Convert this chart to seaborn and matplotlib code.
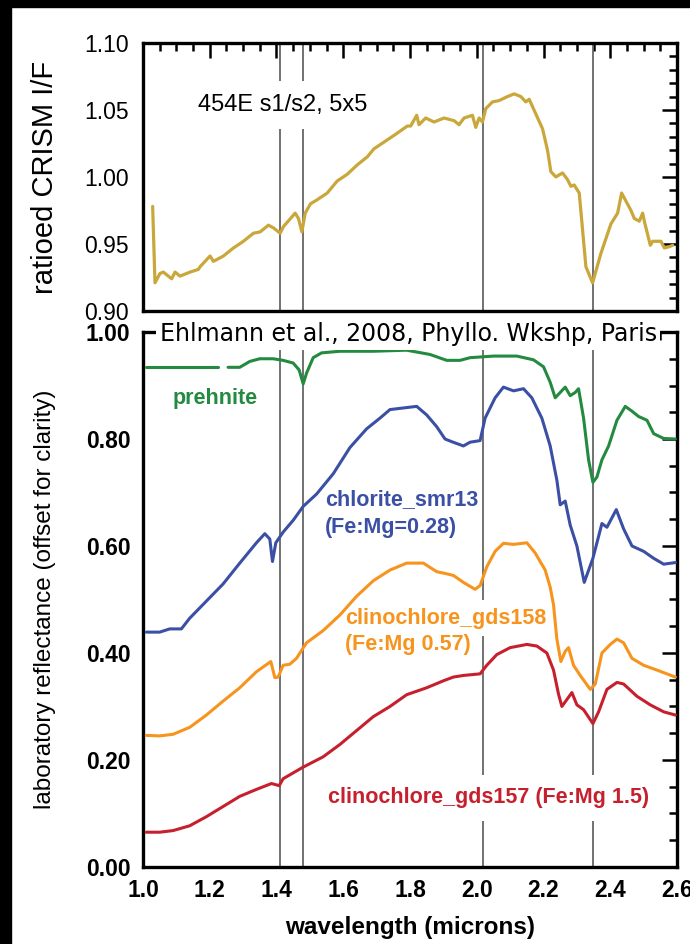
import numpy as np
import pandas as pd
import matplotlib
matplotlib.use('Agg')
import matplotlib.pyplot as plt
from matplotlib.patches import Rectangle
from matplotlib.ticker import MultipleLocator, FormatStrFormatter
import seaborn as sns

# CRISM ratioed spectrum (top panel)
crism_w = [1.029, 1.036, 1.051, 1.061, 1.086, 1.096, 1.111, 1.141, 1.166, 1.171,
           1.201, 1.211, 1.241, 1.271, 1.301, 1.331, 1.351, 1.376, 1.391, 1.411,
           1.421, 1.456, 1.466, 1.476, 1.486, 1.502, 1.522, 1.552, 1.582, 1.612,
           1.642, 1.672, 1.692, 1.722, 1.752, 1.792, 1.802, 1.82, 1.827, 1.847,
           1.872, 1.902, 1.932, 1.947, 1.962, 1.987, 1.997, 2.007, 2.017, 2.027,
           2.047, 2.067, 2.092, 2.112, 2.132, 2.147, 2.157, 2.177, 2.197, 2.212,
           2.222, 2.237, 2.257, 2.272, 2.282, 2.292, 2.302, 2.307, 2.327, 2.347,
           2.372, 2.402, 2.422, 2.434, 2.462, 2.472, 2.487, 2.497, 2.502, 2.52,
           2.527, 2.552, 2.562, 2.577, 2.587]
crism_v = [0.978, 0.921, 0.928, 0.929, 0.924, 0.929, 0.926, 0.929, 0.931, 0.933,
           0.941, 0.937, 0.941, 0.947, 0.952, 0.958, 0.959, 0.964, 0.962, 0.958,
           0.963, 0.973, 0.969, 0.959, 0.973, 0.980, 0.983, 0.988, 0.997, 1.002,
           1.009, 1.015, 1.021, 1.026, 1.031, 1.038, 1.038, 1.046, 1.039, 1.044,
           1.041, 1.044, 1.042, 1.039, 1.044, 1.046, 1.037, 1.044, 1.041, 1.051,
           1.056, 1.057, 1.060, 1.062, 1.060, 1.056, 1.058, 1.047, 1.036, 1.020,
           1.004, 1.000, 1.003, 0.998, 0.993, 0.994, 0.990, 0.988, 0.933, 0.921,
           0.943, 0.965, 0.973, 0.988, 0.975, 0.969, 0.967, 0.973, 0.967, 0.949,
           0.952, 0.952, 0.947, 0.948, 0.949]

# library spectra (bottom panel)
prehnite_w = [1.01, 1.225, 1.24, 1.255, 1.29, 1.32, 1.35, 1.39, 1.42, 1.45,
              1.468, 1.48, 1.49, 1.51, 1.535, 1.59, 1.69, 1.79, 1.86, 1.91,
              1.95, 1.98, 2.05, 2.12, 2.17, 2.20, 2.22, 2.235, 2.25, 2.265,
              2.28, 2.295, 2.305, 2.32, 2.335, 2.348, 2.36, 2.375, 2.395, 2.42,
              2.445, 2.465, 2.485, 2.51, 2.53, 2.56, 2.595]
prehnite_v = [0.934, 0.934, np.nan, 0.934, 0.934, 0.945, 0.950, 0.950, 0.947, 0.942,
              0.929, 0.903, 0.923, 0.952, 0.961, 0.964, 0.964, 0.966, 0.958, 0.947,
              0.947, 0.952, 0.955, 0.955, 0.948, 0.935, 0.906, 0.877, 0.887, 0.897,
              0.881, 0.887, 0.894, 0.839, 0.761, 0.719, 0.729, 0.761, 0.787, 0.835,
              0.861, 0.852, 0.842, 0.835, 0.810, 0.801, 0.800]

chlorite_w = [1.01, 1.05, 1.08, 1.115, 1.14, 1.19, 1.24, 1.29, 1.34, 1.365,
              1.38, 1.388, 1.398, 1.42, 1.45, 1.48, 1.52, 1.57, 1.62, 1.67,
              1.71, 1.74, 1.78, 1.82, 1.85, 1.88, 1.905, 1.925, 1.96, 1.98,
              2.01, 2.025, 2.055, 2.08, 2.11, 2.14, 2.165, 2.195, 2.22, 2.24,
              2.25, 2.265, 2.28, 2.30, 2.322, 2.348, 2.375, 2.39, 2.418, 2.44,
              2.465, 2.50, 2.53, 2.56, 2.595]
chlorite_v = [0.439, 0.439, 0.445, 0.445, 0.465, 0.497, 0.529, 0.568, 0.606, 0.623,
              0.613, 0.571, 0.606, 0.626, 0.648, 0.674, 0.697, 0.735, 0.784, 0.819,
              0.839, 0.855, 0.858, 0.861, 0.845, 0.823, 0.800, 0.795, 0.787, 0.794,
              0.797, 0.839, 0.877, 0.897, 0.890, 0.894, 0.877, 0.839, 0.787, 0.723,
              0.677, 0.684, 0.639, 0.600, 0.532, 0.577, 0.642, 0.635, 0.668, 0.632,
              0.600, 0.590, 0.577, 0.566, 0.569]

gds158_w = [1.01, 1.05, 1.09, 1.14, 1.19, 1.24, 1.29, 1.34, 1.383, 1.395,
            1.405, 1.42, 1.44, 1.46, 1.49, 1.54, 1.59, 1.64, 1.69, 1.74,
            1.79, 1.84, 1.88, 1.91, 1.93, 1.96, 1.995, 2.01, 2.03, 2.055,
            2.08, 2.11, 2.15, 2.175, 2.205, 2.22, 2.23, 2.24, 2.252, 2.265,
            2.275, 2.29, 2.31, 2.34, 2.355, 2.375, 2.40, 2.42, 2.44, 2.465,
            2.50, 2.54, 2.595]
gds158_v = [0.246, 0.245, 0.248, 0.261, 0.284, 0.310, 0.335, 0.365, 0.384, 0.354,
            0.355, 0.377, 0.379, 0.390, 0.419, 0.442, 0.471, 0.506, 0.535, 0.555,
            0.568, 0.568, 0.552, 0.548, 0.545, 0.532, 0.519, 0.526, 0.561, 0.590,
            0.605, 0.603, 0.606, 0.587, 0.555, 0.523, 0.490, 0.426, 0.384, 0.403,
            0.410, 0.377, 0.358, 0.332, 0.342, 0.400, 0.416, 0.426, 0.419, 0.390,
            0.377, 0.368, 0.355]

gds157_w = [1.01, 1.05, 1.09, 1.14, 1.19, 1.24, 1.29, 1.34, 1.385, 1.408,
            1.42, 1.478, 1.54, 1.59, 1.64, 1.69, 1.74, 1.79, 1.85, 1.90,
            1.93, 1.96, 2.01, 2.03, 2.06, 2.10, 2.15, 2.18, 2.21, 2.23,
            2.245, 2.255, 2.27, 2.285, 2.30, 2.32, 2.348, 2.365, 2.39, 2.42,
            2.44, 2.48, 2.52, 2.56, 2.595]
gds157_v = [0.065, 0.065, 0.068, 0.077, 0.094, 0.113, 0.132, 0.145, 0.156, 0.152,
            0.165, 0.186, 0.206, 0.229, 0.255, 0.281, 0.300, 0.322, 0.335, 0.348,
            0.355, 0.358, 0.361, 0.377, 0.397, 0.410, 0.416, 0.413, 0.400, 0.368,
            0.323, 0.300, 0.313, 0.326, 0.303, 0.294, 0.268, 0.290, 0.332, 0.345,
            0.342, 0.319, 0.303, 0.290, 0.284]

band_lines = [1.41, 1.478, 2.018, 2.348]

gold = '#C9A73A'
green = '#238A40'
blue = '#3B4FA5'
orange = '#F7941E'
red = '#C6202E'
gray = '#666666'

sns.set_style('white')
plt.rcParams['font.family'] = ['Liberation Sans', 'DejaVu Sans']
plt.rcParams['axes.linewidth'] = 2.4
plt.rcParams['axes.edgecolor'] = 'black'
plt.rcParams['xtick.color'] = 'black'
plt.rcParams['ytick.color'] = 'black'
plt.rcParams['text.color'] = 'black'
plt.rcParams['axes.labelcolor'] = 'black'

fig = plt.figure(figsize=(6.9, 9.44), dpi=100)
ax1 = fig.add_axes([0.2072, 0.6706, 0.774, 0.2839])
ax2 = fig.add_axes([0.2072, 0.0816, 0.774, 0.5667])

# black frame bits of the original screenshot
fig.add_artist(Rectangle((0, 1 - 7 / 944), 1, 7 / 944, transform=fig.transFigure,
                         color='black', zorder=10))
fig.add_artist(Rectangle((0, 0), 11 / 690, 1, transform=fig.transFigure,
                         color='black', zorder=10))

# top panel
for x in band_lines:
    ax1.axvline(x, color=gray, lw=1.3, zorder=1)
top = pd.DataFrame({'w': crism_w, 'v': crism_v})
sns.lineplot(data=top, x='w', y='v', ax=ax1, color=gold, lw=2.3,
             estimator=None, zorder=3)
ax1.text(1.165, 1.054, '454E s1/s2, 5x5', fontsize=17, ha='left', va='center',
         zorder=2, bbox=dict(boxstyle='square,pad=0.55', fc='white', ec='none'))
ax1.set_xlim(1.0, 2.6)
ax1.set_ylim(0.90, 1.10)
ax1.xaxis.set_major_locator(MultipleLocator(0.2))
ax1.xaxis.set_minor_locator(MultipleLocator(0.05))
ax1.yaxis.set_major_locator(MultipleLocator(0.05))
ax1.yaxis.set_minor_locator(MultipleLocator(0.01))
ax1.yaxis.set_major_formatter(FormatStrFormatter('%.2f'))
ax1.tick_params(which='both', direction='in', top=True, right=True, width=1.8,
                labelbottom=False)
ax1.tick_params(which='major', length=11)
ax1.tick_params(which='minor', length=5.5)
ax1.tick_params(axis='y', labelsize=16.5, pad=10)
ax1.set_xlabel('')
ax1.set_ylabel('ratioed CRISM I/F', fontsize=21)
ax1.yaxis.set_label_coords(-0.157, 0.5)

# bottom panel
for x in band_lines:
    ax2.axvline(x, color=gray, lw=1.3, zorder=1)

pre = pd.DataFrame({'w': prehnite_w, 'v': prehnite_v})
pre['seg'] = pre['v'].isna().cumsum()
for _, part in pre.dropna().groupby('seg'):
    sns.lineplot(data=part, x='w', y='v', ax=ax2, color=green, lw=2.2,
                 estimator=None, zorder=3)
for ws, vs, col in [(chlorite_w, chlorite_v, blue), (gds158_w, gds158_v, orange),
                    (gds157_w, gds157_v, red)]:
    sns.lineplot(x=ws, y=vs, ax=ax2, color=col, lw=2.2, estimator=None, zorder=3)

box = dict(boxstyle='square,pad=0.6', fc='white', ec='none')
lab = dict(fontsize=15.5, fontweight='bold', ha='left', va='center', zorder=2)
ax2.text(1.09, 0.875, 'prehnite', color=green, bbox=box, **lab)
ax2.text(1.546, 0.687, 'chlorite_smr13', color=blue, **lab)
ax2.text(1.546, 0.635, '(Fe:Mg=0.28)', color=blue, **lab)
ax2.text(1.606, 0.465, 'clinochlore_gds158', color=orange,
         bbox=dict(boxstyle='square,pad=0.35', fc='white', ec='none'), **lab)
ax2.text(1.606, 0.416, '(Fe:Mg 0.57)', color=orange, **lab)
ax2.text(1.555, 0.129, 'clinochlore_gds157 (Fe:Mg 1.5)', color=red, bbox=box, **lab)

ax2.text(1.795, 0.996, 'Ehlmann et al., 2008, Phyllo. Wkshp, Paris', fontsize=17,
         family='DejaVu Sans', ha='center', va='center', zorder=6, clip_on=False,
         bbox=dict(boxstyle='square,pad=0.15', fc='white', ec='none'))

ax2.set_xlim(1.0, 2.6)
ax2.set_ylim(0.0, 1.0)
ax2.xaxis.set_major_locator(MultipleLocator(0.2))
ax2.xaxis.set_minor_locator(MultipleLocator(0.05))
ax2.yaxis.set_major_locator(MultipleLocator(0.2))
ax2.yaxis.set_minor_locator(MultipleLocator(0.05))
ax2.xaxis.set_major_formatter(FormatStrFormatter('%.1f'))
ax2.yaxis.set_major_formatter(FormatStrFormatter('%.2f'))
ax2.tick_params(which='both', direction='in', top=True, right=True, width=1.8)
ax2.tick_params(which='major', length=11)
ax2.tick_params(which='minor', length=5.5)
ax2.tick_params(labelsize=16.5, pad=9)
for t in ax2.get_xticklabels() + ax2.get_yticklabels():
    t.set_fontweight('bold')
ax2.set_xlabel('wavelength (microns)', fontsize=17.5, fontweight='bold')
ax2.xaxis.set_label_coords(0.5, -0.092)
ax2.set_ylabel('laboratory reflectance (offset for clarity)', fontsize=17.5)
ax2.yaxis.set_label_coords(-0.163, 0.5)

fig.savefig('out.png', dpi=100)
